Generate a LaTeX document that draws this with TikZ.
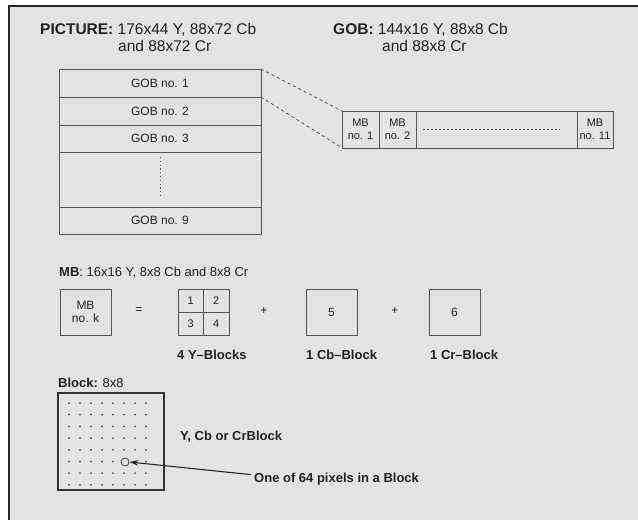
\documentclass[tikz,border=0pt]{standalone}
\usepackage{fontspec}
\setmainfont{Liberation Sans}
\usetikzlibrary{arrows.meta, positioning}

\definecolor{bgray}{HTML}{E3E3E3}
\definecolor{lgray}{HTML}{555555}
\definecolor{ink}{HTML}{222222}

\begin{document}
\begin{tikzpicture}[x=1pt, y=-1pt, color=ink,
		box/.style={rectangle, draw=lgray, line width=0.8pt, inner sep=0pt, outer sep=0pt,
				align=center, font=\fontsize{12}{13}\selectfont},
		gob/.style={box, minimum width=202pt, minimum height=28pt},
		mbcell/.style={box, minimum height=37pt, font=\fontsize{11}{12.5}\selectfont},
		sq/.style={box, minimum width=51pt, minimum height=46pt},
		quad/.style={box, minimum width=25.5pt, minimum height=23pt, font=\fontsize{11}{12}\selectfont},
		head/.style={anchor=base west, inner sep=0pt, font=\fontsize{15.5}{18}\selectfont},
		lbl/.style={anchor=base west, inner sep=0pt, font=\bfseries\fontsize{13}{15}\selectfont},
		op/.style={inner sep=0pt, font=\fontsize{12}{14}\selectfont},
		pixel/.style={circle, fill=gray!60!black, inner sep=0pt, minimum size=2pt},
		guide/.style={lgray, line width=0.8pt, dash pattern=on 3pt off 3pt},
	]
	\useasboundingbox (0,0) rectangle (638,520);
	\fill[white] (0,0) rectangle (638,520);
	\fill[bgray] (9,6) rectangle (650,530);
	\draw[black!85, line width=2pt] (9,540) -- (9,6) -- (650,6);

	% picture = 9 GOBs
	\node (pichead)  [head] at (40,34)  {\textbf{PICTURE:} 176x44 Y, 88x72 Cb};
	\node (pichead2) [head] at (118,51) {and 88x72 Cr};
	\node (gob1) [gob] at (160,83) {GOB no. 1};
	\node (gob2) [gob, below=0pt of gob1] {GOB no. 2};
	\node (gob3) [gob, below=0pt of gob2, minimum height=27pt] {GOB no. 3};
	\node (gobdots) [gob, below=0pt of gob3, minimum height=55pt] {};
	\node (gob9) [gob, below=0pt of gobdots, minimum height=27pt] {GOB no. 9};
	\draw[lgray, line width=0.8pt, dash pattern=on 1.2pt off 2.6pt]
	([yshift=-5pt]gobdots.north) -- ([yshift=10pt]gobdots.south);

	% GOB = 11 MBs
	\node (gobhead)  [head] at (333,34) {\textbf{GOB:} 144x16 Y, 88x8 Cb};
	\node (gobhead2) [head] at (382,51) {and 88x8 Cr};
	\node (mb1)   [mbcell, minimum width=37pt] at (360.5,129.5) {MB\\no. 1};
	\node (mb2)   [mbcell, minimum width=37pt, right=0pt of mb1] {MB\\no. 2};
	\node (mbgap) [mbcell, minimum width=161pt, right=0pt of mb2] {};
	\node (mb11)  [mbcell, minimum width=36pt, right=0pt of mbgap] {MB\\no. 11};
	\draw[lgray, line width=0.8pt, dash pattern=on 2pt off 2pt]
	([xshift=7pt]mbgap.west) -- ([xshift=-17pt]mbgap.east);
	\draw[guide] (gob1.north east) -- (mb1.north west);
	\draw[guide] (gob2.north east) -- (mb1.south west);

	% MB = 4 Y + Cb + Cr
	\node (mbhead) [anchor=base west, inner sep=0pt, font=\fontsize{13}{15}\selectfont]
	at (59,276) {\textbf{MB}: 16x16 Y, 8x8 Cb and 8x8 Cr};
	\node (mbk) [sq] at (85.5,312) {MB\\no. k};
	\node (eq) [op] at (139,311) {=};
	\node (y1) [quad] at (190.75,300.5) {1};
	\node (y2) [quad, right=0pt of y1] {2};
	\node (y3) [quad, below=0pt of y1] {3};
	\node (y4) [quad, right=0pt of y3] {4};
	\node (plus1) [op] at (264,311) {+};
	\node (cb) [sq] at (331.5,312) {5};
	\node (plus2) [op] at (395,311) {+};
	\node (cr) [sq] at (454.5,312) {6};
	\node (ylbl)  [lbl] at (177,359) {4 Y--Blocks};
	\node (cblbl) [lbl] at (306,359) {1 Cb--Block};
	\node (crlbl) [lbl] at (430,359) {1 Cr--Block};

	% block = 8x8 pixels
	\node (blkhead) [lbl] at (58,387) {Block: \mdseries 8x8};
	\node (blk) [rectangle, draw=black!80, line width=1.6pt, minimum width=106pt,
		minimum height=97pt, inner sep=0pt] at (111,441.5) {};
	\foreach \i in {0,...,7}
	\foreach \j in {0,...,7}
	\node[pixel] at (69+11*\i, 403+11.7*\j) {};
	\node (pix) [circle, draw=black!75, fill=bgray, line width=0.8pt, minimum size=8pt,
		inner sep=0pt] at (125,462) {};
	\node (ycb)    [lbl] at (180,440) {Y, Cb or CrBlock};
	\node (pixtxt) [lbl] at (254,482) {One of 64 pixels in a Block};
	\draw[black!85, line width=1.1pt, -{Stealth[length=9pt, width=5.5pt]}]
	([xshift=-3pt, yshift=4pt]pixtxt.west) -- (pix.east);
\end{tikzpicture}
\end{document}
